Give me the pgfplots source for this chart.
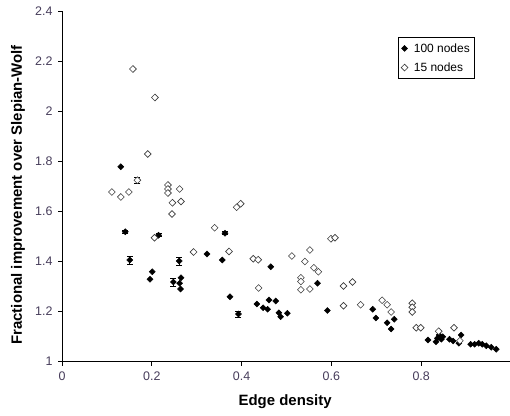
\documentclass[border=0pt]{standalone}
\usepackage{fontspec}
\setmainfont{Liberation Sans}
\usepackage{pgfplots}
\pgfplotsset{compat=1.18}
\definecolor{ticktext}{RGB}{70,60,90}
\definecolor{opengray}{RGB}{60,60,60}
\begin{document}
\begin{tikzpicture}
\begin{axis}[
  name=ax,
  at={(0,0)}, anchor=south west,
  width=449bp, height=350bp, scale only axis,
  xmin=0, xmax=1, ymin=1, ymax=2.4,
  axis lines*=left,
  axis line style={black, line width=0.8bp},
  xtick={0,0.2,0.4,0.6,0.8,1},
  xticklabels={0,0.2,0.4,0.6,0.8,},
  ytick={1,1.2,1.4,1.6,1.8,2,2.2,2.4},
  yticklabels={1,1.2,1.4,1.6,1.8,2,2.2,2.4},
  tick align=outside,
  major tick length=4bp,
  tick style={black, line width=0.8bp},
  /pgf/number format/assume math mode=true,
  tick label style={font=\fontsize{12.5}{14}\selectfont, text=ticktext},
  xticklabel style={yshift=-3bp},
  yticklabel style={xshift=-2bp},
  xlabel={\textbf{Edge density}},
  ylabel={\textbf{Fractional improvement over Slepian-Wolf}},
  label style={font=\fontsize{15}{17}\selectfont},
  xlabel style={at={(axis description cs:0.497,-0.1157)}, anchor=center},
  ylabel style={at={(axis description cs:-0.098,0.476)}, anchor=center, rotate=0},
  legend style={at={(axis description cs:0.748,0.927)}, anchor=north west,
    draw=black, line width=0.6bp, font=\fontsize{12}{14}\selectfont,
    inner xsep=3bp, inner ysep=4bp, row sep=5bp, cells={anchor=west}},
  legend image code/.code={\draw[#1] plot coordinates {(0.12cm,0cm)};},
  clip=false,
]
% 100 nodes (filled)
\addplot[only marks, mark=square*, mark size=2.1bp, mark options={rotate=45, fill=black, draw=black, line width=0.5bp}]
coordinates {
(0.131,1.779)(0.141,1.519)(0.151,1.406)(0.196,1.329)(0.201,1.359)(0.215,1.505)
(0.248,1.318)(0.261,1.402)(0.265,1.335)(0.262,1.313)(0.264,1.290)(0.323,1.430)
(0.357,1.406)(0.363,1.513)(0.374,1.259)(0.393,1.190)(0.434,1.230)(0.448,1.215)
(0.458,1.209)(0.461,1.246)(0.476,1.242)(0.465,1.379)(0.483,1.195)(0.487,1.179)
(0.502,1.193)(0.569,1.313)(0.591,1.204)(0.692,1.209)(0.699,1.174)(0.724,1.155)
(0.740,1.169)(0.733,1.130)(0.815,1.086)(0.833,1.079)(0.836,1.093)(0.840,1.106)
(0.848,1.099)(0.845,1.089)(0.863,1.089)(0.871,1.082)(0.889,1.106)(0.884,1.073)
(0.910,1.069)(0.919,1.069)(0.928,1.073)(0.936,1.069)(0.945,1.063)(0.956,1.057)
(0.967,1.049)
};
\addlegendentry{\hspace{4bp}100 nodes}
% 15 nodes (open)
\addplot[only marks, mark=square*, mark size=2.4bp, mark options={rotate=45, fill=white, draw=opengray, line width=0.6bp}]
coordinates {
(0.158,2.170)(0.207,2.056)(0.191,1.830)(0.168,1.725)(0.111,1.678)(0.131,1.658)
(0.149,1.678)(0.236,1.706)(0.236,1.690)(0.236,1.674)(0.262,1.690)(0.246,1.635)
(0.265,1.640)(0.245,1.590)(0.206,1.495)(0.293,1.438)(0.389,1.617)(0.398,1.631)
(0.340,1.535)(0.372,1.440)(0.426,1.411)(0.437,1.407)(0.512,1.422)(0.541,1.400)
(0.552,1.446)(0.561,1.375)(0.571,1.359)(0.532,1.335)(0.532,1.320)(0.532,1.287)
(0.438,1.294)(0.552,1.290)(0.599,1.491)(0.608,1.495)(0.627,1.302)(0.647,1.318)
(0.627,1.223)(0.665,1.227)(0.713,1.245)(0.724,1.227)(0.733,1.198)(0.780,1.233)
(0.780,1.217)(0.780,1.198)(0.789,1.135)(0.799,1.135)(0.839,1.121)(0.873,1.135)
(0.886,1.083)
};
\addlegendentry{\hspace{4bp}15 nodes}
% error bars on a few points
\addplot[draw=none, mark=none, forget plot,
  error bars/.cd, y dir=both, y explicit,
  error bar style={black, line width=0.7bp},
  error mark options={rotate=90, mark size=3bp, black, line width=0.7bp}]
coordinates {
(0.141,1.519) +- (0,0.006)
(0.151,1.406) +- (0,0.016)
(0.261,1.402) +- (0,0.016)
(0.248,1.318) +- (0,0.016)
(0.393,1.190) +- (0,0.012)
(0.363,1.513) +- (0,0.006)
(0.168,1.725) +- (0,0.012)
(0.215,1.505) +- (0,0.006)
};
\end{axis}
\pgfresetboundingbox
\useasboundingbox ([xshift=-62bp,yshift=-54.5bp]ax.south west) rectangle ([xshift=-1bp,yshift=11.5bp]ax.north east);
\end{tikzpicture}
\end{document}
